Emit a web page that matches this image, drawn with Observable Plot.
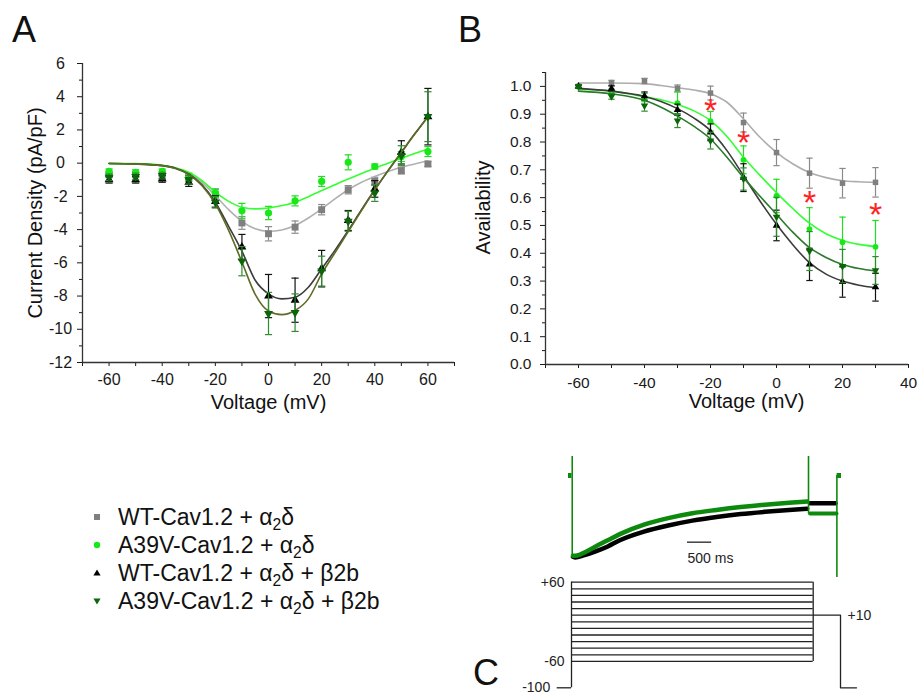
<!DOCTYPE html>
<html><head><meta charset="utf-8">
<script src="https://cdn.jsdelivr.net/npm/d3@7"></script>
<script src="https://cdn.jsdelivr.net/npm/@observablehq/plot@0.6"></script>
<style>
body{margin:0;background:#fff;}
#fig{position:relative;width:921px;height:694px;overflow:hidden;background:#fff;font-family:"Liberation Sans",Arial,Helvetica,sans-serif;color:#111;}
.letter{position:absolute;font-size:36px;line-height:36px;color:#111;}
#legend{position:absolute;left:90px;top:503px;font-size:23px;color:#111;}
.row{display:flex;align-items:center;height:28px;white-space:nowrap;}
.row svg{width:14px;height:14px;margin-right:14px;flex:none;}
sub{font-size:0.68em;vertical-align:-0.3em;line-height:0;}
</style></head>
<body><div id="fig"></div>
<script>
// ================= DATA =================
// Panel A : I-V relationship
const voltsA = [-60,-50,-40,-30,-20,-10,0,10,20,30,40,50,60];
const ivWT      = [-0.7,-0.7,-0.8,-0.9,-1.9,-3.6,-4.25,-3.85,-2.8,-1.6,-1.1,-0.45,-0.05];
const ivWTerr   = [0.15,0.15,0.15,0.2,0.3,0.38,0.43,0.37,0.31,0.25,0.25,0.2,0.15];
const ivA39V    = [-0.5,-0.55,-0.5,-0.8,-1.8,-2.87,-3.0,-2.27,-1.1,0.05,-0.2,0.4,0.7];
const ivA39Verr = [0.15,0.15,0.15,0.2,0.26,0.45,0.4,0.3,0.3,0.45,0.15,0.3,0.3];
const ivWTb     = [-1.0,-1.0,-0.95,-1.15,-2.3,-5.05,-8.0,-8.25,-6.35,-3.45,-1.55,0.65,2.8];
const ivWTberr  = [0.2,0.2,0.2,0.25,0.35,0.76,1.3,1.33,1.1,0.6,0.5,0.7,1.7];
const ivA39Vb   = [-0.85,-0.8,-0.75,-1.0,-2.35,-5.9,-9.05,-9.0,-6.5,-3.5,-1.8,0.45,2.8];
const ivA39Vberr= [0.2,0.2,0.2,0.25,0.35,0.88,1.27,1.13,0.9,0.6,0.5,0.6,1.5];
// fitted curves
const fitVoltsA = [-60,-50,-40,-35,-30,-25,-20,-15,-10,-5,0,5,10,15,20,25,30,35,40,45,50,55,60];
const ivFitWT    = [-0.02,-0.04,-0.15,-0.3,-0.6,-1.15,-1.95,-2.8,-3.5,-3.95,-4.1,-4.02,-3.75,-3.3,-2.75,-2.15,-1.6,-1.15,-0.8,-0.5,-0.25,-0.05,0.15];
const ivFitA39V  = [-0.01,-0.03,-0.13,-0.28,-0.55,-1.05,-1.75,-2.3,-2.65,-2.75,-2.7,-2.55,-2.35,-2.02,-1.65,-1.3,-0.95,-0.62,-0.3,0.0,0.3,0.58,0.85];
const ivFitWTb   = [-0.02,-0.05,-0.15,-0.3,-0.65,-1.3,-2.35,-3.8,-5.3,-7.05,-7.87,-8.17,-8.07,-7.47,-6.36,-5.25,-4.05,-2.8,-1.6,-0.45,0.65,1.75,2.8];
const ivFitA39Vb = [-0.02,-0.05,-0.15,-0.32,-0.68,-1.35,-2.45,-4.05,-5.95,-7.9,-8.9,-9.12,-8.87,-8.17,-6.67,-5.4,-4.12,-2.85,-1.6,-0.45,0.65,1.75,2.8];
const xTickLabelsA = [-60,-40,-20,0,20,40,60];
const xTickMinorA  = [-70,-50,-30,-10,10,30,50,70];
const yTickLabelsA = [-12,-10,-8,-6,-4,-2,0,2,4,6];
const yTickMinorA  = [-11,-9,-7,-5,-3,-1,1,3,5];

// Panel B : availability
const voltsB = [-60,-50,-40,-30,-20,-10,0,10,20,30];
const avWT       = [1.0,1.012,1.019,0.993,0.976,0.87,0.762,0.688,0.652,0.655];
const avWTerr    = [0.005,0.01,0.01,0.012,0.025,0.034,0.047,0.054,0.053,0.053];
const avA39V     = [1.0,0.98,0.96,0.94,0.875,0.736,0.606,0.487,0.44,0.423];
const avA39Verr  = [0.005,0.01,0.015,0.04,0.035,0.05,0.06,0.077,0.09,0.095];
const avWTb      = [1.0,0.992,0.965,0.916,0.835,0.672,0.50,0.36,0.297,0.278];
const avWTberr   = [0.005,0.01,0.015,0.02,0.03,0.05,0.055,0.058,0.055,0.05];
const avA39Vb    = [1.0,0.964,0.931,0.877,0.805,0.667,0.531,0.408,0.354,0.338];
const avA39Vberr = [0.005,0.01,0.02,0.025,0.03,0.04,0.07,0.07,0.06,0.05];
const fitVoltsB = [-60,-50,-40,-35,-30,-25,-20,-15,-10,-5,0,5,10,15,20,25,30];
const avFitWT    = [1.012,1.012,1.01,1.003,0.995,0.987,0.974,0.943,0.883,0.817,0.763,0.721,0.69,0.672,0.661,0.657,0.655];
const avFitA39V  = [0.99,0.983,0.963,0.952,0.935,0.912,0.877,0.82,0.745,0.68,0.618,0.56,0.508,0.47,0.446,0.432,0.424];
const avFitWTb   = [0.993,0.983,0.964,0.946,0.92,0.886,0.841,0.769,0.679,0.588,0.504,0.43,0.366,0.325,0.30,0.285,0.276];
const avFitA39Vb = [0.983,0.973,0.95,0.925,0.893,0.856,0.811,0.745,0.672,0.605,0.54,0.475,0.42,0.385,0.36,0.345,0.336];
const starVolts = [-20,-10,10,30];
const starAvail = [0.93,0.815,0.598,0.556];
const xTickLabelsB = [-60,-40,-20,0,20,40];
const xTickMinorB  = [-70,-50,-30,-10,10,30];
const yTickLabelsB = [0,0.1,0.2,0.3,0.4,0.5,0.6,0.7,0.8,0.9,1.0];
const yTickMinorB  = [0.05,0.15,0.25,0.35,0.45,0.55,0.65,0.75,0.85,0.95,1.05];

// Panel C : example traces (normalized current vs time, ms)
const blackTraceT = [31,83,250,500,750,1000,1500,2000,2500,3000,3500,4000,4500,4876];
const blackTraceI = [-0.99,-1.0,-0.975,-0.925,-0.865,-0.79,-0.685,-0.61,-0.55,-0.505,-0.47,-0.443,-0.42,-0.405];
const blackPostT  = [4934,5461];
const blackPostI  = [-0.338,-0.338];
const greenTraceT = [31,118,300,500,750,1000,1500,2000,2500,3000,3500,4000,4500,4876];
const greenTraceI = [-0.98,-0.976,-0.93,-0.865,-0.79,-0.715,-0.6,-0.52,-0.46,-0.42,-0.385,-0.356,-0.332,-0.317];
const greenPostT  = [4934,5482];
const greenPostI  = [-0.463,-0.463];
const baselineT   = [-62,10,5495,5585];
const spikeT      = [15,4903,5490];
const spikeTop    = [0.232,0.232,0];
const spikeBottom = [-0.98,-0.463,-1.244];
const scaleBarT   = [2400,2900];
const scaleBarI   = -0.813;
// Panel C : voltage protocol (mV vs ms)
const protoLevels = [-60,-50,-40,-30,-20,-10,0,10,20,30,40,50,60];
const prepulseT   = [0,5000];
const protoPathT  = [5000,5565,5565,5896];
const protoPathV  = [10,10,-100,-100];
const holdT       = [-296,0];
const holdV       = -100;
const protoLabels = ["+60","-60","-100","+10"];
const protoLabelT = [0,0,-296,5565];
const protoLabelV = [60,-60,-100,10];

// ================= HELPERS =================
const FONT = '"Liberation Sans", Arial, Helvetica, sans-serif';
const fig = document.getElementById("fig");
function place(el, left, top){ el.style.position="absolute"; el.style.left=left+"px"; el.style.top=top+"px"; fig.appendChild(el); }
const capSym = {draw(ctx, size){ const w = Math.sqrt(size/Math.PI); ctx.moveTo(-w,0); ctx.lineTo(w,0); }};
const triDown = {draw(ctx, size){ const s = Math.sqrt(4*size/Math.sqrt(3)); const h = s*Math.sqrt(3)/2;
  ctx.moveTo(0, 2*h/3); ctx.lineTo(-s/2, -h/3); ctx.lineTo(s/2, -h/3); ctx.closePath(); }};

function seriesMarks(volts, vals, errs, fitV, fitVals, st){
  const rows = volts.map((v,i)=>({v, y: vals[i], e: errs[i]}));
  const fit = fitV.map((v,i)=>({v, y: fitVals[i]}));
  return [
    Plot.ruleX(rows, {x:"v", y1:d=>d.y-d.e, y2:d=>d.y+d.e, stroke: st.bar, strokeWidth: 1.2}),
    Plot.dot(rows, {x:"v", y:d=>d.y+d.e, symbol: capSym, r: st.cap, stroke: st.bar, strokeWidth: 1.2}),
    Plot.dot(rows, {x:"v", y:d=>d.y-d.e, symbol: capSym, r: st.cap, stroke: st.bar, strokeWidth: 1.2}),
    Plot.line(fit, {x:"v", y:"y", stroke: st.fit, strokeWidth: 1.6, curve: "monotone-x"}),
    Plot.dot(rows, {x:"v", y:"y", symbol: st.sym, r: st.r, fill: st.color, stroke: "none"})
  ];
}

// ================= PANEL A =================
const stA = {
  WT:    {color:"#7f7f7f", bar:"#8a8a8a", fit:"#b0b0b0", sym:"square",   r:3.9, cap:3.6},
  A39V:  {color:"#18e818", bar:"#22dd22", fit:"#33ff33", sym:"circle",   r:3.6, cap:3.6},
  WTb:   {color:"#000000", bar:"#111111", fit:"#3c3c3c", sym:"triangle", r:3.3, cap:3.6},
  A39Vb: {color:"#0b650b", bar:"#2e8b2e", fit:"#5d6b24", sym:triDown,    r:3.3, cap:3.6}
};
const plotA = Plot.plot({
  width: 470, height: 420, marginLeft: 82, marginRight: 16, marginTop: 63, marginBottom: 58,
  x: {domain: [-70, 70]}, y: {domain: [-12, 6]},
  style: {fontFamily: FONT, fontSize: "16px", color: "#1a1a1a", background: "transparent", overflow: "visible"},
  marks: [
    Plot.axisX({ticks: xTickLabelsA, tickSize: 4, tickPadding: 7, fontSize: 16, tickFormat: d=>String(d), label: null}),
    Plot.axisX({ticks: xTickMinorA, tickSize: 4, tickFormat: ()=>"", label: null}),
    Plot.axisY({ticks: yTickLabelsA, tickSize: 5, tickPadding: 17, textAnchor: "middle", fontSize: 16, tickFormat: d=>String(d), label: null}),
    Plot.axisY({ticks: yTickMinorA, tickSize: 3, tickFormat: ()=>"", label: null}),
    Plot.ruleX([-70], {stroke:"#333", strokeWidth: 1.3}),
    Plot.ruleY([-12], {stroke:"#333", strokeWidth: 1.3}),
    Plot.text(["Voltage (mV)"], {text: d=>d, frameAnchor:"bottom", textAnchor:"middle", dy: 46, fontSize: 20, fill:"#111"}),
    Plot.text(["Current Density (pA/pF)"], {text: d=>d, frameAnchor:"left", textAnchor:"middle", dx: -47, rotate: -90, fontSize: 20, fill:"#111"}),
    ...seriesMarks(voltsA, ivWT, ivWTerr, fitVoltsA, ivFitWT, stA.WT),
    ...seriesMarks(voltsA, ivA39V, ivA39Verr, fitVoltsA, ivFitA39V, stA.A39V),
    ...seriesMarks(voltsA, ivWTb, ivWTberr, fitVoltsA, ivFitWTb, stA.WTb),
    ...seriesMarks(voltsA, ivA39Vb, ivA39Vberr, fitVoltsA, ivFitA39Vb, stA.A39Vb)
  ]
});
place(plotA, 0, 0);

// ================= PANEL B =================
const stB = {
  WT:    {color:"#7f7f7f", bar:"#8a8a8a", fit:"#adadad", sym:"square",   r:3.1, cap:3.2},
  A39V:  {color:"#18e818", bar:"#22dd22", fit:"#33ff33", sym:"circle",   r:2.9, cap:3.2},
  WTb:   {color:"#000000", bar:"#111111", fit:"#3c3c3c", sym:"triangle", r:2.8, cap:3.2},
  A39Vb: {color:"#0b650b", bar:"#2e8b2e", fit:"#2a7a2a", sym:triDown,    r:2.8, cap:3.2}
};
const starRows = starVolts.map((v,i)=>({v, y: starAvail[i]}));
const plotB = Plot.plot({
  width: 461, height: 420, marginLeft: 85, marginRight: 13, marginTop: 72, marginBottom: 56,
  x: {domain: [-70, 40]}, y: {domain: [0, 1.05]},
  style: {fontFamily: FONT, fontSize: "15.5px", color: "#1a1a1a", background: "transparent", overflow: "visible"},
  marks: [
    Plot.axisX({ticks: xTickLabelsB, tickSize: 4, tickPadding: 8, fontSize: 15.5, tickFormat: d=>String(d), label: null}),
    Plot.axisX({ticks: xTickMinorB, tickSize: 4, tickFormat: ()=>"", label: null}),
    Plot.axisY({ticks: yTickLabelsB, tickSize: 5, tickPadding: 9, fontSize: 15.5, tickFormat: d=>d.toFixed(1), label: null}),
    Plot.axisY({ticks: yTickMinorB, tickSize: 3, tickFormat: ()=>"", label: null}),
    Plot.ruleX([-70], {stroke:"#333", strokeWidth: 1.3}),
    Plot.ruleY([0], {stroke:"#333", strokeWidth: 1.3}),
    Plot.text(["Voltage (mV)"], {text: d=>d, frameAnchor:"bottom", textAnchor:"middle", dx: 19.5, dy: 43, fontSize: 20, fill:"#111"}),
    Plot.text(["Availability"], {text: d=>d, frameAnchor:"left", textAnchor:"middle", dx: -62, dy: -11, rotate: -90, fontSize: 20, fill:"#111"}),
    ...seriesMarks(voltsB, avWT, avWTerr, fitVoltsB, avFitWT, stB.WT),
    ...seriesMarks(voltsB, avA39V, avA39Verr, fitVoltsB, avFitA39V, stB.A39V),
    ...seriesMarks(voltsB, avWTb, avWTberr, fitVoltsB, avFitWTb, stB.WTb),
    ...seriesMarks(voltsB, avA39Vb, avA39Vberr, fitVoltsB, avFitA39Vb, stB.A39Vb),
    Plot.text(starRows, {x:"v", y:"y", text: ()=>"*", fill:"#ff2222", fontSize: 34, dy: 5})
  ]
});
place(plotB, 460, 0);

// ================= PANEL C : traces =================
const rowsXY = (T, I) => T.map((t,i)=>({t, i: I[i]}));
const spikes = spikeT.map((t,k)=>({t, a: spikeTop[k], b: spikeBottom[k]}));
const plotTr = Plot.plot({
  width: 380, height: 150, marginLeft: 46.83, marginRight: 18.96, marginTop: 6.3, marginBottom: 0.2,
  x: {domain: [-500, 6000], axis: null}, y: {domain: [-1.4, 0.35], axis: null},
  style: {fontFamily: FONT, background: "transparent", overflow: "visible"},
  marks: [
    Plot.line(rowsXY(blackTraceT, blackTraceI), {x:"t", y:"i", stroke:"#000", strokeWidth: 4.5, curve:"monotone-x"}),
    Plot.line(rowsXY(blackPostT, blackPostI), {x:"t", y:"i", stroke:"#000", strokeWidth: 4.5}),
    Plot.line(rowsXY(greenTraceT, greenTraceI), {x:"t", y:"i", stroke:"#0d8a0d", strokeWidth: 4.5, curve:"monotone-x"}),
    Plot.line(rowsXY(greenPostT, greenPostI), {x:"t", y:"i", stroke:"#0d8a0d", strokeWidth: 4}),
    Plot.ruleX(spikes, {x:"t", y1:"a", y2:"b", stroke:"#0d8a0d", strokeWidth: 1.6}),
    Plot.ruleY([0], {x1: baselineT[0], x2: baselineT[1], stroke:"#0d8a0d", strokeWidth: 5}),
    Plot.ruleY([0], {x1: baselineT[2], x2: baselineT[3], stroke:"#0d8a0d", strokeWidth: 5}),
    Plot.ruleY([scaleBarI], {x1: scaleBarT[0], x2: scaleBarT[1], stroke:"#222", strokeWidth: 1.3}),
    Plot.text(["500 ms"], {text: d=>d, x: scaleBarT[0], y: scaleBarI, dy: 16, textAnchor:"start", fontSize: 14, fill:"#222"})
  ]
});
place(plotTr, 500, 440);

// ================= PANEL C : protocol =================
const protoPath = protoPathT.map((t,k)=>({t, v: protoPathV[k]}));
const protoText = protoLabels.map((s,k)=>({s, t: protoLabelT[k], v: protoLabelV[k]}));
const plotPr = Plot.plot({
  width: 380, height: 134, marginLeft: 46.83, marginRight: 18.96, marginTop: 15.1, marginBottom: 3.4,
  x: {domain: [-500, 6000], axis: null}, y: {domain: [-105, 70], axis: null},
  style: {fontFamily: FONT, background: "transparent", overflow: "visible"},
  marks: [
    Plot.ruleY(protoLevels, {y: d=>d, x1: prepulseT[0], x2: prepulseT[1], stroke:"#222", strokeWidth: 1.3}),
    Plot.ruleX([prepulseT[0]], {y1: holdV, y2: 60, stroke:"#222", strokeWidth: 1.3}),
    Plot.ruleX([prepulseT[1]], {y1: -60, y2: 60, stroke:"#222", strokeWidth: 1.3}),
    Plot.ruleY([holdV], {x1: holdT[0], x2: holdT[1], stroke:"#222", strokeWidth: 1.3}),
    Plot.line(protoPath, {x:"t", y:"v", stroke:"#222", strokeWidth: 1.3}),
    Plot.text(protoText.slice(0,3), {x:"t", y:"v", text:"s", textAnchor:"end", dx: -7, fontSize: 14, fill:"#222"}),
    Plot.text(protoText.slice(3), {x:"t", y:"v", text:"s", textAnchor:"start", dx: 7, fontSize: 14, fill:"#222"})
  ]
});
place(plotPr, 500, 560);

// ================= LETTERS & LEGEND =================
[["A",12,12],["B",458,12],["C",473,655]].forEach(([s,l,t])=>{
  const d = document.createElement("div"); d.className="letter"; d.textContent=s; d.style.left=l+"px"; d.style.top=t+"px"; fig.appendChild(d);
});
const legendItems = [
  {m:'<rect x="4" y="4" width="6" height="6" fill="#7f7f7f"/>', t:'WT-Cav1.2 + α<sub>2</sub>δ'},
  {m:'<circle cx="7" cy="7" r="3.2" fill="#18e818"/>', t:'A39V-Cav1.2 + α<sub>2</sub>δ'},
  {m:'<path d="M7,3.5 L10.6,9.6 L3.4,9.6Z" fill="#000"/>', t:'WT-Cav1.2 + α<sub>2</sub>δ + β2b'},
  {m:'<path d="M3.4,4.4 L10.6,4.4 L7,10.5Z" fill="#0b650b"/>', t:'A39V-Cav1.2 + α<sub>2</sub>δ + β2b'}
];
const lg = document.createElement("div"); lg.id="legend";
lg.innerHTML = legendItems.map(it=>`<div class="row"><svg viewBox="0 0 14 14">${it.m}</svg><span>${it.t}</span></div>`).join("");
fig.appendChild(lg);
</script></body></html>
